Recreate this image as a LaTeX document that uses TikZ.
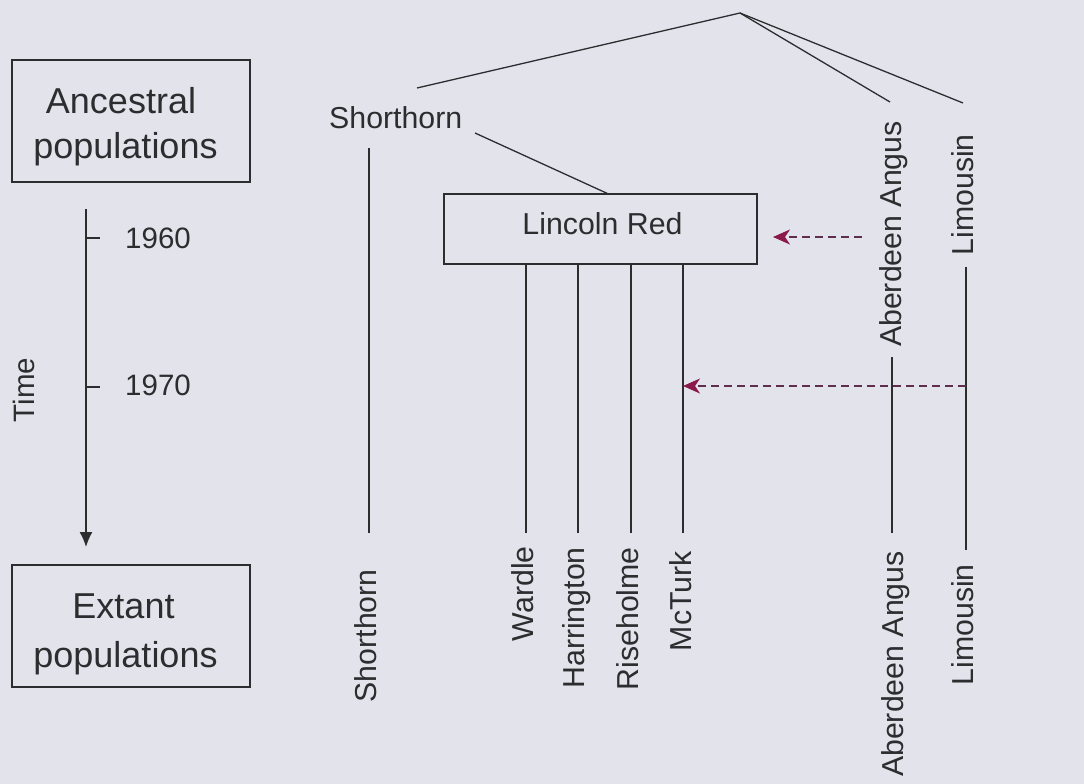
\documentclass[tikz,border=0pt]{standalone}
\usepackage{fontspec}
\setmainfont{Liberation Sans}
\usetikzlibrary{arrows.meta}
\definecolor{bg}{RGB}{227,227,236}
\definecolor{ink}{RGB}{45,45,48}
\definecolor{dashc}{RGB}{95,45,78}
\definecolor{headc}{RGB}{140,25,75}
\begin{document}
\begin{tikzpicture}[x=1pt,y=-1pt,
  ln/.style={draw=ink,line width=1.3pt},
  boxst/.style={draw=ink,line width=1.4pt,inner sep=0pt},
  big/.style={font=\fontsize{36}{40}\selectfont,text=ink,inner sep=0pt},
  lab/.style={font=\fontsize{30.3}{34}\selectfont,text=ink,inner sep=0pt},
  vlab/.style={lab,rotate=90,anchor=east,text height=22pt,text depth=6.7pt},
  yr/.style={font=\fontsize{29.5}{33}\selectfont,text=ink,inner sep=0pt},
  dsh/.style={draw=dashc,line width=1.3pt,dash pattern=on 8pt off 5pt,-{Stealth[length=17pt,width=15pt,inset=5pt,color=headc]}}
]
\fill[bg] (0,0) rectangle (1084,784);
\useasboundingbox (0,0) rectangle (1084,784);

% left boxes
\node[boxst,minimum width=238pt,minimum height=122pt] (anc) at (131,121) {};
\node[big,anchor=base] (ancA) at (121,113) {Ancestral};
\node[big,anchor=base] (ancB) at (125.5,158) {populations};
\node[boxst,minimum width=238pt,minimum height=122pt] (ext) at (131,626) {};
\node[big,anchor=base] (extA) at (123.5,618) {Extant};
\node[big,anchor=base] (extB) at (125.5,667) {populations};

% time axis
\coordinate (t0) at (86,209);
\coordinate (t1) at (86,547);
\draw[ln,-{Latex[length=15pt,width=13pt]}] (t0) -- (t1);
\coordinate (k60) at (86,238);
\coordinate (k60e) at (100,238);
\coordinate (k70) at (86,387);
\coordinate (k70e) at (100,387);
\draw[ln] (k60) -- (k60e);
\draw[ln] (k70) -- (k70e);
\node[yr,anchor=base west] (y60) at (125,248) {1960};
\node[yr,anchor=base west] (y70) at (125,395) {1970};
\node[yr,rotate=90] (time) at (24,390) {Time};

% top tree
\coordinate (apex) at (740,13);
\coordinate (shEnd) at (417,88);
\coordinate (aaEnd) at (890,102);
\coordinate (liEnd) at (963,103);
\draw[ln] (shEnd) -- (apex) -- (aaEnd);
\draw[ln] (apex) -- (liEnd);

\node[lab,anchor=base west] (shT) at (329,128) {Shorthorn};
\node[vlab] (aaT) at (894,121) {Aberdeen Angus};
\node[vlab] (liT) at (966,134) {Limousin};

% Lincoln Red
\node[boxst,minimum width=313pt,minimum height=70pt] (lr) at (600.5,229) {};
\node[lab,anchor=base] (lrT) at (602.5,234) {Lincoln Red};
\coordinate (shL) at (475,133);
\coordinate (lrIn) at (607,0);
\draw[ln] (shL) -- (lr.north -| lrIn);

% vertical lines
\coordinate (shTop) at (369,148);
\coordinate (shE) at (369,533);
\draw[ln] (shTop) -- (shE);
\coordinate (waE) at (526,533);
\coordinate (haE) at (578,533);
\coordinate (riE) at (631,533);
\coordinate (mcE) at (683,533);
\draw[ln] (lr.south -| waE) -- (waE);
\draw[ln] (lr.south -| haE) -- (haE);
\draw[ln] (lr.south -| riE) -- (riE);
\draw[ln] (lr.south -| mcE) -- (mcE);
\coordinate (aaS) at (892,357);
\coordinate (aaE) at (892,533);
\draw[ln] (aaS) -- (aaE);
\coordinate (liS) at (966,267);
\coordinate (liE) at (966,550);
\draw[ln] (liS) -- (liE);

% bottom labels
\node[vlab] (shB) at (369,569) {Shorthorn};
\node[vlab] (waB) at (526,546) {Wardle};
\node[vlab] (haB) at (577,547) {Harrington};
\node[vlab] (riB) at (631,547) {Riseholme};
\node[vlab] (mcB) at (684,551) {McTurk};
\node[vlab] (aaB) at (896,551) {Aberdeen Angus};
\node[vlab] (liB) at (966,564) {Limousin};

% dashed arrows
\coordinate (d1s) at (862,237);
\coordinate (d1e) at (773,237);
\draw[dsh] (d1s) -- (d1e);
\coordinate (d2s) at (966,386);
\draw[dsh] (d2s) -- (d2s -| mcE);
\end{tikzpicture}
\end{document}
